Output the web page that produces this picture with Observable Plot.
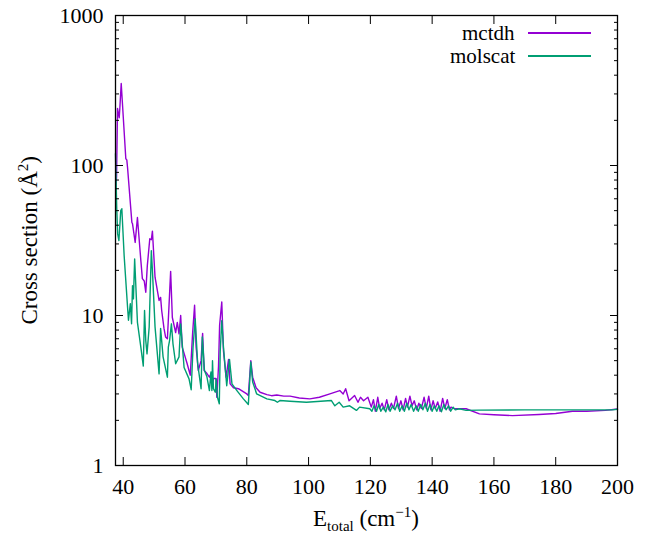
<!DOCTYPE html>
<html>
<head>
<meta charset="utf-8">
<script src="https://cdn.jsdelivr.net/npm/d3@7"></script>
<script src="https://cdn.jsdelivr.net/npm/@observablehq/plot@0.6"></script>
<style>
  html, body { margin: 0; padding: 0; background: #fff; }
  #wrap { position: relative; width: 649px; height: 534px; font-family: "Liberation Serif", "Times New Roman", "DejaVu Serif", serif; }
  #wrap svg text { font-family: "Liberation Serif", "Times New Roman", "DejaVu Serif", serif; }
  .lab { position: absolute; font-size: 23px; color: #000; white-space: nowrap; line-height: 1; }
  .leg { font-size: 21px; line-height: 1; }
  sub, sup { font-size: 15px; }
</style>
</head>
<body>
<div id="wrap"></div>
<script>
// ---- data ----
const seriesNames = ["mctdh", "molscat"];
const seriesColors = ["#9400d3", "#009e73"];

const mctdhE = [37.6,37.85,38.15,38.7,38.9,39.35,40.84,41.16,41.4,42.8,43.0,43.87,44.6,45.7,46.2,46.8,47.3,47.8,48.6,49.1,49.45,50.3,51.6,52.1,52.45,53.2,53.7,54.3,54.8,55.35,55.9,56.97,57.5,58.06,58.6,59.1,60.7,61.7,62.45,63.1,63.6,64.3,65.2,65.7,66.2,67.1,67.9,68.4,68.8,69.2,70.0,70.3,70.85,71.2,71.9,72.45,73.3,74.1,74.6,75.7,77.3,80.0,80.5,81.3,81.9,83.0,84.3,86.5,88.0,89.7,92.0,94.0,97.0,100.4,103.5,106.9,110.1,111.2,112.0,113.1,114.9,116.0,116.8,117.8,119.2,
  120.3,121.0,121.6,122.4,123.0,123.8,124.5,125.3,126.0,126.8,127.5,128.4,129.1,129.9,130.6,131.4,132.0,132.8,133.5,134.2,135.0,135.7,136.5,137.4,138.1,138.9,139.6,140.3,141.0,141.8,142.6,143.4,144.1,144.9,145.6,146.1,147.0,
  147.7,151.0,155.3,160.0,166.0,174.6,180.0,185.4,190.0,196.1,200.0];
const mctdhV = [65,85,240,208,240,352,111,109,97,41.7,41,30.7,45,23.3,17.6,17.0,14.3,21.5,32.5,32,36.5,18,12.6,13.2,10.8,8.2,7.2,7.0,11.4,19.7,9.7,7.7,9.0,7.55,10,6.15,4.77,4.0,7.55,11.7,6.15,4.3,5.0,7.6,4.3,4.1,3.88,4.1,3.4,3.8,3.8,2.85,4.6,8.6,12.3,5.8,3.88,5.1,3.5,3.3,3.25,3.0,2.93,5.0,3.88,3.3,3.08,2.97,2.92,2.95,2.9,2.9,2.82,2.78,2.85,3.0,3.16,3.0,3.25,2.7,2.93,2.64,2.85,2.7,2.85,
  2.45,2.75,2.3,2.85,2.4,2.6,2.35,2.75,2.35,2.6,2.4,2.9,2.4,2.7,2.35,2.8,2.45,2.9,2.5,2.7,2.35,2.6,2.4,2.85,2.4,2.9,2.35,2.7,2.4,2.65,2.3,2.8,2.4,2.75,2.35,2.45,2.4,
  2.39,2.39,2.21,2.18,2.15,2.19,2.22,2.3,2.3,2.33,2.38];

const molscatE = [37.5,37.9,38.2,38.6,39.2,39.55,40.3,41.4,41.7,42.3,42.7,43.0,43.3,43.7,44.6,45.7,46.5,46.9,47.3,47.7,48.4,49.1,49.45,50.3,51.6,52.1,52.9,54.3,54.6,55.0,55.6,56.1,56.97,58.06,58.6,59.7,61.3,62.0,62.6,63.3,64.1,65.2,65.6,66.3,67.1,67.9,68.4,68.7,68.9,69.2,69.8,70.1,70.5,71.1,71.4,71.9,72.45,73.5,74.4,75.2,76.8,78.9,80.5,81.3,81.9,83.2,86.5,89.1,89.9,90.7,94.0,99.3,107.4,108.5,109.9,111.2,113.3,115.5,116.5,119.8,
  120.5,121.2,122.0,122.7,123.4,124.2,125.0,125.7,126.4,127.2,128.0,128.8,129.5,130.3,131.0,131.8,132.5,133.2,134.0,134.8,135.5,136.3,137.0,137.8,138.5,139.3,140.0,140.7,141.5,142.2,143.0,143.8,144.5,145.3,146.0,146.8,147.5,
  148.8,151.0,155.0,170.0,185.0,198.2,200.0];
const molscatV = [120,51.7,35,31.6,50,51.5,25,11.4,9.3,12,8.8,15.8,12.9,23.8,9.0,6.15,4.6,10.8,6.8,5.55,8.36,27,20,8.4,4.08,8.2,5.3,3.88,6.15,6.8,8.8,6.5,4.77,5.3,8.8,4.5,3.78,3.2,6.15,9.5,4.77,3.25,7.2,4.3,3.9,3.16,4.2,3.16,5.0,3.25,3.08,3.78,2.85,2.58,5.8,9.25,6.15,3.4,5.1,3.5,3.16,2.78,2.55,4.9,3.6,3.0,2.78,2.71,2.64,2.71,2.68,2.64,2.71,2.5,2.64,2.45,2.5,2.33,2.45,2.39,
  2.3,2.5,2.3,2.55,2.3,2.45,2.28,2.55,2.3,2.5,2.35,2.6,2.3,2.5,2.3,2.6,2.35,2.55,2.3,2.5,2.3,2.55,2.35,2.6,2.3,2.55,2.3,2.5,2.3,2.5,2.28,2.55,2.35,2.5,2.3,2.45,2.35,
  2.39,2.33,2.34,2.35,2.35,2.35,2.37];

const xTicks = [40, 60, 80, 100, 120, 140, 160, 180, 200];
const yTicks = [1, 10, 100, 1000];
const yMinor = [2,3,4,5,6,7,8,9,20,30,40,50,60,70,80,90,200,300,400,500,600,700,800,900];
const xDomain = [37.5, 200];
const yDomain = [1, 1000];

// ---- build ----
const toRows = (E, V, name) => E.map((e, i) => ({E: e, v: V[i], series: name}));
const rows = [...toRows(mctdhE, mctdhV, seriesNames[0]), ...toRows(molscatE, molscatV, seriesNames[1])];

const blank = () => "";
const chart = Plot.plot({
  width: 649,
  height: 534,
  marginLeft: 115,
  marginRight: 32,
  marginTop: 15,
  marginBottom: 69,
  style: {fontFamily: "'Liberation Serif', 'Times New Roman', 'DejaVu Serif', serif", fontSize: "22px", color: "#000", background: "#fff"},
  x: {type: "linear", domain: xDomain},
  y: {type: "log", domain: yDomain},
  color: {domain: seriesNames, range: seriesColors},
  marks: [
    Plot.line(rows, {x: "E", y: "v", z: "series", stroke: "series", strokeWidth: 1.4}),
    // labels
    Plot.axisX({ticks: xTicks, tickSize: 0, tickPadding: 13, label: null, tickFormat: d3.format("d")}),
    Plot.axisY({ticks: yTicks, tickSize: 0, tickPadding: 12, label: null, tickFormat: d3.format("d")}),
    // inward ticks
    Plot.axisX({anchor: "bottom", ticks: xTicks, tickSize: -8, tickFormat: blank, label: null}),
    Plot.axisX({anchor: "top", ticks: xTicks, tickSize: -8, tickFormat: blank, label: null}),
    Plot.axisY({anchor: "left", ticks: yTicks, tickSize: -8, tickFormat: blank, label: null}),
    Plot.axisY({anchor: "right", ticks: yTicks, tickSize: -8, tickFormat: blank, label: null}),
    Plot.axisY({anchor: "left", ticks: yMinor, tickSize: -4, tickFormat: blank, label: null}),
    Plot.axisY({anchor: "right", ticks: yMinor, tickSize: -4, tickFormat: blank, label: null}),
    Plot.frame({stroke: "#000", strokeWidth: 1.3})
  ]
});

const wrap = document.getElementById("wrap");
wrap.appendChild(chart);

// axis titles
const xl = document.createElement("div");
xl.className = "lab";
xl.innerHTML = "E<sub>total</sub> (cm<sup>−1</sup>)";
wrap.appendChild(xl);
xl.style.left = (366 - xl.offsetWidth / 2) + "px";
xl.style.top = "505px";

const yl = document.createElement("div");
yl.className = "lab";
yl.innerHTML = "Cross section (Å<sup>2</sup>)";
wrap.appendChild(yl);
const w = yl.offsetWidth, h = yl.offsetHeight;
yl.style.left = (28 - w / 2) + "px";
yl.style.top = (240 - h / 2) + "px";
yl.style.transform = "rotate(-90deg)";

// legend
seriesNames.forEach((name, i) => {
  const cy = 33 + i * 23;
  const t = document.createElement("div");
  t.className = "lab leg";
  t.textContent = name;
  wrap.appendChild(t);
  t.style.left = (515 - t.offsetWidth) + "px";
  t.style.top = (cy - t.offsetHeight / 2) + "px";
  const ln = document.createElement("div");
  ln.style.position = "absolute";
  ln.style.left = "528px";
  ln.style.width = "63px";
  ln.style.top = (cy - 0.7) + "px";
  ln.style.height = "1.4px";
  ln.style.background = seriesColors[i];
  wrap.appendChild(ln);
});
</script>
</body>
</html>
